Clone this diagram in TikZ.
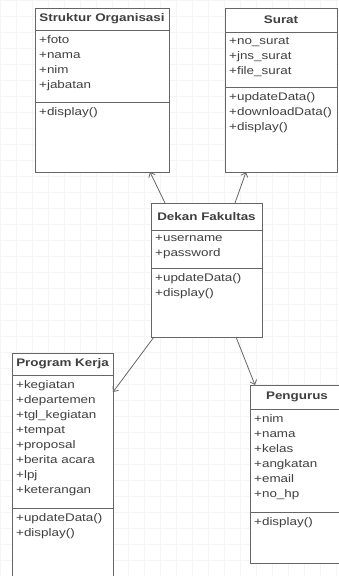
\documentclass[tikz,border=0pt]{standalone}
\usepackage{fontspec}
\setmainfont{Liberation Sans}[FakeStretch=1.22]
\usetikzlibrary{positioning,arrows.meta}

\begin{document}
\begin{tikzpicture}[x=1pt,y=-1pt,font=\fontsize{11}{15}\selectfont,text=black!75]
    \tikzstyle{part} = [draw=black!60,fill=white,rectangle,inner sep=0pt,outer sep=0pt,line width=0.8pt]
    \tikzstyle{head} = [part,font=\fontsize{11}{15}\selectfont\bfseries]
    \tikzstyle{members} = [align=left,inner sep=0pt,anchor=north west]
    \tikzstyle{assoc} = [-{Straight Barb[length=4pt,width=7pt]},draw=black!60,line width=0.8pt]

    \useasboundingbox (0,0) rectangle (339,576);
    \clip (0,0) rectangle (339,576);
    \draw [black!4,step=16pt] (0,0) grid (339,576);

    \node [head,minimum width=134,minimum height=22,anchor=north west] (so) at (35,8) {Struktur Organisasi};
    \node [part,minimum width=134,minimum height=72,below=0pt of so] (soattr) {};
    \node [part,minimum width=134,minimum height=70,below=0pt of soattr] (someth) {};
    \node [members,below right=5pt and 4pt of soattr.north west] (soattrtxt) {+foto\\+nama\\+nim\\+jabatan};
    \node [members,below right=5pt and 4pt of someth.north west] (somethtxt) {+display()};

    \node [head,minimum width=112,minimum height=24,anchor=north west] (surat) at (225,8) {Surat};
    \node [part,minimum width=112,minimum height=55,below=0pt of surat] (suattr) {};
    \node [part,minimum width=112,minimum height=85,below=0pt of suattr] (sumeth) {};
    \node [members,below right=5pt and 4pt of suattr.north west] (suattrtxt) {+no\_surat\\+jns\_surat\\+file\_surat};
    \node [members,below right=5pt and 4pt of sumeth.north west] (sumethtxt) {+updateData()\\+downloadData()\\+display()};

    \node [head,minimum width=111,minimum height=27,anchor=north west] (dk) at (151,203) {Dekan Fakultas};
    \node [part,minimum width=111,minimum height=38,below=0pt of dk] (dkattr) {};
    \node [part,minimum width=111,minimum height=69,below=0pt of dkattr] (dkmeth) {};
    \node [members,below right=5pt and 4pt of dkattr.north west] (dkattrtxt) {+username\\+password};
    \node [members,below right=5pt and 4pt of dkmeth.north west] (dkmethtxt) {+updateData()\\+display()};

    \node [head,minimum width=101,minimum height=22,anchor=north west] (pk) at (12,353) {Program Kerja};
    \node [part,minimum width=101,minimum height=133,below=0pt of pk] (pkattr) {};
    \node [part,minimum width=101,minimum height=90,below=0pt of pkattr] (pkmeth) {};
    \node [members,below right=5pt and 4pt of pkattr.north west] (pkattrtxt) {+kegiatan\\+departemen\\+tgl\_kegiatan\\+tempat\\+proposal\\+berita acara\\+lpj\\+keterangan};
    \node [members,below right=5pt and 4pt of pkmeth.north west] (pkmethtxt) {+updateData()\\+display()};

    \node [head,minimum width=94,minimum height=24,anchor=north west] (pg) at (250,385) {Pengurus};
    \node [part,minimum width=94,minimum height=103,below=0pt of pg] (pgattr) {};
    \node [part,minimum width=94,minimum height=51,below=0pt of pgattr] (pgmeth) {};
    \node [members,below right=5pt and 4pt of pgattr.north west] (pgattrtxt) {+nim\\+nama\\+kelas\\+angkatan\\+email\\+no\_hp};
    \node [members,below right=5pt and 4pt of pgmeth.north west] (pgmethtxt) {+display()};

    \draw [assoc] ([xshift=14pt]dk.north west) -- ([xshift=-19pt]someth.south east);
    \draw [assoc] ([xshift=-27pt]dk.north east) -- ([xshift=21pt]sumeth.south west);
    \draw [assoc] ([xshift=3pt]dkmeth.south west) -- ([yshift=-17pt]pkattr.north east);
    \draw [assoc] ([xshift=-26pt]dkmeth.south east) -- ([xshift=5pt]pg.north west);
\end{tikzpicture}
\end{document}
